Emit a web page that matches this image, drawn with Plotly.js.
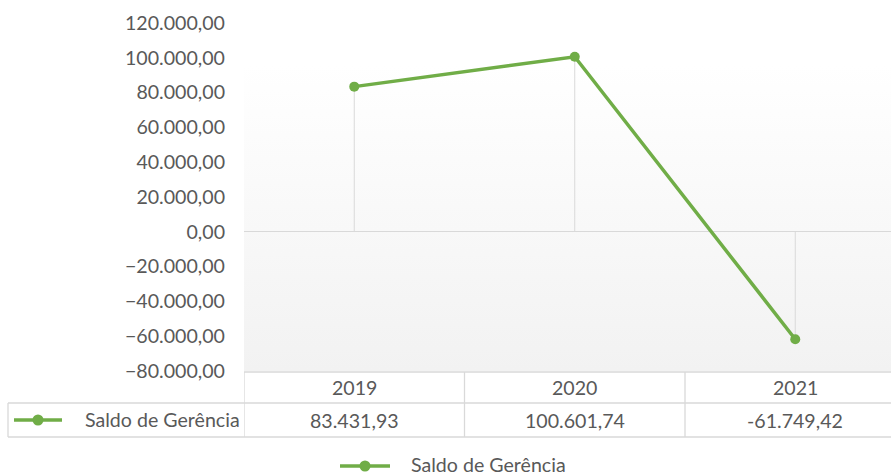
<!DOCTYPE html>
<html>
<head>
<meta charset="utf-8">
<script src="https://cdn.plot.ly/plotly-3.0.1.min.js"></script>
<style>html,body{margin:0;padding:0;background:#fff;}#chart{width:891px;height:475px;}</style>
</head>
<body>
<div id="chart"></div>
<script>
const years = ['2019', '2020', '2021'];
const saldo = [83431.93, 100601.74, -61749.42];
const seriesName = 'Saldo de Gerência';
const yTicks = [-80000, -60000, -40000, -20000, 0, 20000, 40000, 60000, 80000, 100000, 120000];

function fmt(v) {
  const neg = v < 0;
  const parts = Math.abs(v).toFixed(2).split('.');
  const intPart = parts[0].replace(/\B(?=(\d{3})+(?!\d))/g, '.');
  return (neg ? '-' : '') + intPart + ',' + parts[1];
}

const W = 891, H = 475;
const L = 244, R = 891, T = 23, B = 371;
const pw = R - L, ph = B - T;
const px = q => (q - L) / pw;
const py = p => (B - p) / ph;

const green = '#70ad47';
const grid = '#d9d9d9';
const txt = '#595959';
const FONT = 'Lato, Carlito, Calibri, sans-serif';
const FS = 19.6;

const traces = [];
// drop lines
years.forEach((y, i) => {
  traces.push({
    x: [y, y], y: [0, saldo[i]], type: 'scatter', mode: 'lines',
    line: {color: grid, width: 1}, hoverinfo: 'skip', showlegend: false
  });
});
traces.push({
  x: years, y: saldo, type: 'scatter', mode: 'lines+markers', name: seriesName,
  line: {color: green, width: 3.5}, marker: {color: green, size: 10},
  showlegend: false, cliponaxis: false
});

const gradSvg = '<svg xmlns="http://www.w3.org/2000/svg" width="100" height="100" preserveAspectRatio="none">' +
  '<defs><linearGradient id="g" x1="0" y1="0" x2="0" y2="1">' +
  '<stop offset="0" stop-color="#ffffff"/><stop offset="0.12" stop-color="#ffffff"/>' +
  '<stop offset="1" stop-color="#f2f2f2"/></linearGradient></defs>' +
  '<rect width="100" height="100" fill="url(#g)"/></svg>';

const shapes = [];
const lineS = (x0, y0, x1, y1, xref) => ({
  type: 'line', xref: xref || 'paper', yref: 'paper', x0: x0, y0: y0, x1: x1, y1: y1,
  line: {color: grid, width: 1.3}, layer: 'above'
});
// table horizontal lines
shapes.push(lineS(0, py(372), 1.05, py(372)));
shapes.push(lineS(px(8), py(403), 1.05, py(403)));
shapes.push(lineS(px(8), py(437), 1.05, py(437)));
// left legend cell edge
shapes.push(lineS(px(8), py(403), px(8), py(437)));
// column borders from category positions
for (let i = 0; i <= years.length; i++) {
  shapes.push({type: 'line', xref: 'x', yref: 'paper', x0: i - 0.5, x1: i - 0.5,
    y0: py(372), y1: py(437), line: {color: grid, width: 1.3}, layer: 'above'});
}
// legend keys (table + bottom)
function legendKey(x0, x1, yc) {
  shapes.push({type: 'line', xref: 'paper', yref: 'paper', x0: px(x0), x1: px(x1), y0: py(yc), y1: py(yc),
    line: {color: green, width: 3.5}});
  const cx = (x0 + x1) / 2, r = 5.5;
  shapes.push({type: 'circle', xref: 'paper', yref: 'paper', x0: px(cx - r), x1: px(cx + r),
    y0: py(yc + r), y1: py(yc - r), fillcolor: green, line: {width: 0}});
}
legendKey(14, 62, 420);
legendKey(340, 390, 466);

const annotations = [];
years.forEach((y, i) => {
  annotations.push({x: i, xref: 'x', y: py(387), yref: 'paper', text: y, showarrow: false,
    font: {family: FONT, size: FS, color: txt}, xanchor: 'center', yanchor: 'middle'});
  annotations.push({x: i, xref: 'x', y: py(420), yref: 'paper', text: fmt(saldo[i]), showarrow: false,
    font: {family: FONT, size: FS, color: txt}, xanchor: 'center', yanchor: 'middle'});
});
annotations.push({x: px(83), xref: 'paper', y: py(419), yref: 'paper', text: seriesName, showarrow: false,
  font: {family: FONT, size: FS, color: txt}, xanchor: 'left', yanchor: 'middle'});
annotations.push({x: px(409), xref: 'paper', y: py(464), yref: 'paper', text: seriesName, showarrow: false,
  font: {family: FONT, size: FS, color: txt}, xanchor: 'left', yanchor: 'middle'});

const layout = {
  width: W, height: H,
  margin: {l: L, r: W - R, t: T, b: H - B, pad: 0},
  paper_bgcolor: '#ffffff', plot_bgcolor: 'rgba(0,0,0,0)',
  separators: ',.',
  showlegend: false,
  xaxis: {type: 'category', range: [-0.5, -0.5 + pw / 220.5], showgrid: false, showline: false,
    zeroline: false, showticklabels: false, ticks: '', fixedrange: true},
  yaxis: {range: [-80000, 120000], tickvals: yTicks, tickformat: ',.2f', showgrid: false,
    showline: false, zeroline: true, zerolinecolor: grid, zerolinewidth: 1.3,
    ticks: '', ticklabelstandoff: 18, tickfont: {family: FONT, size: FS, color: txt}, fixedrange: true},
  images: [{source: 'data:image/svg+xml;utf8,' + encodeURIComponent(gradSvg), xref: 'paper', yref: 'paper',
    x: 0, y: 1, sizex: 1, sizey: 1, sizing: 'stretch', xanchor: 'left', yanchor: 'top', layer: 'below'}],
  shapes: shapes,
  annotations: annotations
};

Plotly.newPlot('chart', traces, layout, {displayModeBar: false, staticPlot: true});
</script>
</body>
</html>
